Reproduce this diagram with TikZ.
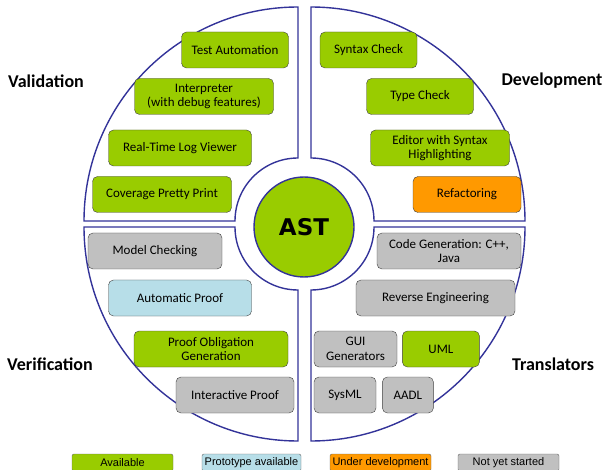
\documentclass[tikz,border=0pt]{standalone}
\usepackage{fontspec}
\setmainfont{Carlito}
\newfontfamily\legendfont{Liberation Sans}
\newfontfamily\astfont{DejaVu Sans}
\usepackage{tikz}
\usetikzlibrary{positioning}

\definecolor{avail}{HTML}{99CC00}
\definecolor{proto}{HTML}{B7DEE8}
\definecolor{undev}{HTML}{FF9900}
\definecolor{notyet}{HTML}{C0C0C0}
\definecolor{ring}{HTML}{333399}

\begin{document}
\begin{tikzpicture}[
            x = 1pt, y = 1pt,
            node distance = 5pt,
            % boxes of the four areas
            tool/.style = {draw = black!75, rounded corners = 5pt,
                minimum height = 36pt, inner sep = 1pt, align = center,
                font = \fontsize{13}{14.5}\selectfont},
            done/.style = {tool, fill = avail},
            proto/.style = {tool, fill = proto},
            undev/.style = {tool, fill = undev},
            todo/.style = {tool, fill = notyet},
            area/.style = {font = \bfseries\fontsize{18}{20}\selectfont},
            quarter/.style = {draw = ring, line width = 1.4pt, fill = white},
            key/.style = {draw = black!60, rounded corners = 2pt,
                minimum height = 17pt, minimum width = 101pt, inner sep = 0pt,
                font = \legendfont\fontsize{11}{12}\selectfont}
        ]

        \useasboundingbox (0,0) rectangle (605,469);

	% the four quarters
        \draw[quarter] (84,248) -- (235,248) arc[start angle=180, end angle=90, radius=63]
            -- (298,462) arc[start angle=90, end angle=180, radius=214] -- cycle;
        \draw[quarter] (374,248) -- (525,248) arc[start angle=0, end angle=90, radius=214]
            -- (311,311) arc[start angle=90, end angle=0, radius=63] -- cycle;
        \draw[quarter] (84,242) -- (235,242) arc[start angle=180, end angle=270, radius=63]
            -- (298,28) arc[start angle=270, end angle=180, radius=214] -- cycle;
        \draw[quarter] (374,242) -- (525,242) arc[start angle=0, end angle=-90, radius=214]
            -- (311,179) arc[start angle=-90, end angle=0, radius=63] -- cycle;

        \node[circle, draw = ring, line width = 1.4pt, fill = avail, minimum size = 100pt,
            font = \astfont\bfseries\fontsize{23}{25}\selectfont] (ast) at (304,242) {AST};

	% validation
        \node[area] (val) at (46,388) {Validation};
        \node[done, minimum width = 107pt] (testaut) at (235,419) {Test Automation};
        \node[done, minimum width = 139pt] (interp) at (204,372.5) {Interpreter\\(with debug features)};
        \node[done, minimum width = 143pt] (logview) at (180,321) {Real-Time Log Viewer};
        \node[done, minimum width = 139pt] (coverage) at (162,274.5) {Coverage Pretty Print};

	% development
        \node[area] (dev) at (552,388) {Development};
        \node[done, minimum width = 97pt] (syntax) at (368.5,419) {Syntax Check};
        \node[done, minimum width = 107pt] (types) at (420,372.5) {Type Check};
        \node[done, minimum width = 139pt] (editor) at (440,321) {Editor with Syntax\\Highlighting};
        \node[undev, minimum width = 108pt] (refact) at (467,274.5) {Refactoring};

	% verification
        \node[area] (ver) at (50,105) {Verification};
        \node[todo, minimum width = 134pt] (modelchk) at (155,218) {Model Checking};
        \node[proto, minimum width = 143pt] (autoproof) at (180,171) {Automatic Proof};
        \node[done, minimum width = 154pt] (pog) at (211,120) {Proof Obligation\\Generation};
        \node[todo, minimum width = 118pt] (interproof) at (235,74) {Interactive Proof};

	% translators
        \node[area] (trans) at (553,105) {Translators};
        \node[todo, minimum width = 144pt] (codegen) at (449,218) {Code Generation: C++,\\Java};
        \node[todo, minimum width = 159pt] (reverse) at (435.5,171) {Reverse Engineering};
        \node[todo, minimum width = 83pt] (gui) at (355.5,120) {GUI\\Generators};
        \node[done, minimum width = 77pt] (uml) [right = of gui] {UML};
        \node[todo, minimum width = 62pt] (sysml) at (345,74) {SysML};
        \node[todo, minimum width = 51pt] (aadl) [right = 6pt of sysml] {AADL};

	% legend
        \node[key, fill = avail] (kavail) at (122.5,6.5) {Available};
        \node[key, fill = proto, minimum width = 99pt] (kproto) at (251.5,6.5) {Prototype available};
        \node[key, fill = undev] (kundev) at (380.5,6.5) {Under development};
        \node[key, fill = notyet] (ktodo) at (508.5,6.5) {Not yet started};

  \end{tikzpicture}
\end{document}
